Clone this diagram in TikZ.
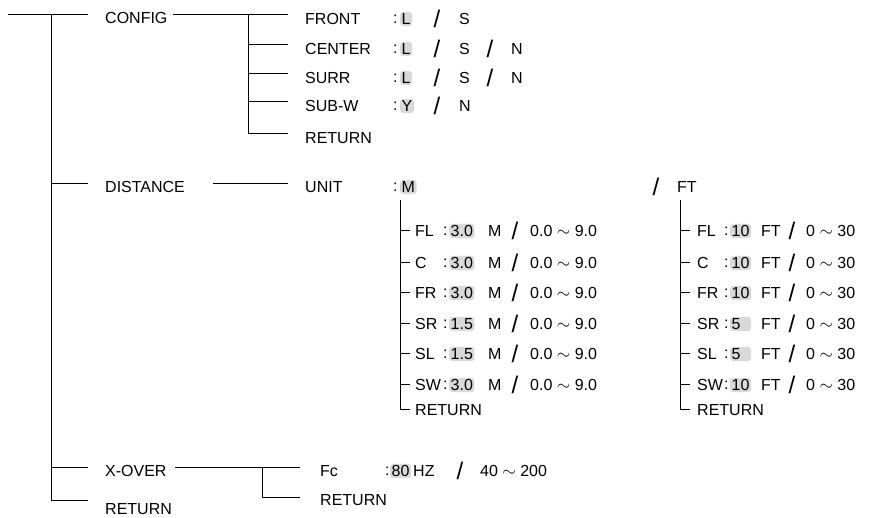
\documentclass[tikz,border=0pt]{standalone}
\usepackage{fontspec}
\setmainfont{Liberation Sans}
\begin{document}
\begin{tikzpicture}[x=1pt,y=-1pt,
  t/.style={anchor=west,inner sep=0pt,font=\fontsize{16}{18}\selectfont},
  hl/.style={anchor=west,inner sep=1.5pt,fill=black!15,rounded corners=3pt,font=\fontsize{16}{18}\selectfont},
  sl/.style={inner sep=0pt,font=\fontsize{24}{26}\selectfont},
  ln/.style={line width=1pt}]
\useasboundingbox (0,0) rectangle (890,517);
% root
\coordinate (r0) at (8,14); \coordinate (r1) at (88,14);
\coordinate (m0) at (51,14); \coordinate (m1) at (51,500);
\draw[ln] (r0)--(r1); \draw[ln] (m0)--(m1);
\coordinate (d0) at (51,183); \coordinate (d1) at (88,183);
\coordinate (x0) at (51,467); \coordinate (x1) at (88,467);
\coordinate (e0) at (51,500); \coordinate (e1) at (88,500);
\draw[ln] (d0)--(d1); \draw[ln] (x0)--(x1); \draw[ln] (e0)--(e1);
\node[t] (config) at (105,18) {CONFIG};
\node[t] (distance) at (105,187) {DISTANCE};
\node[t] (xover) at (105,471) {X-OVER};
\node[t] (ret) at (105,509) {RETURN};
% config subtree
\coordinate (c0) at (173,14); \coordinate (cv0) at (248,14); \coordinate (cv1) at (248,133);
\draw[ln] (c0)--(cv0); \draw[ln] (cv0)--(cv1);
\foreach \y/\n/\lab in {14/front/FRONT,44/center/CENTER,73/surr/SURR,101/subw/SUB-W,133/cret/RETURN}{
  \coordinate (a\n) at (248,\y); \coordinate (b\n) at (288,\y);
  \draw[ln] (a\n)--(b\n);
  \node[t] (\n) at (305,\y+5) {\lab};
}
\node[t] at (393,19) {:}; \node[t] at (393,49) {:}; \node[t] at (393,78) {:}; \node[t] at (393,106) {:};
\node[hl] (vf) at (400,19) {L}; \node[sl] (s1) at (437,19) {/}; \node[t] (fs) at (459,19) {S};
\node[hl] (vc) at (400,49) {L}; \node[sl] (s2) at (437,49) {/}; \node[t] (cs) at (459,49) {S}; \node[sl] (s3) at (490,49) {/}; \node[t] (cn) at (511,49) {N};
\node[hl] (vs) at (400,78) {L}; \node[sl] (s4) at (437,78) {/}; \node[t] (ss) at (459,78) {S}; \node[sl] (s5) at (490,78) {/}; \node[t] (sn) at (511,78) {N};
\node[hl] (vy) at (400,106) {Y}; \node[sl] (s6) at (437,106) {/}; \node[t] (yn) at (459,106) {N};
% distance
\coordinate (dl0) at (213,183); \coordinate (dl1) at (288,183);
\draw[ln] (dl0)--(dl1);
\node[t] (unit) at (305,187) {UNIT};
\node[t] at (393,187) {:};
\node[hl] (um) at (400,187) {M};
\node[sl] (us) at (656,187) {/};
\node[t] (uft) at (677,187) {FT};
\coordinate (mv0) at (400,200); \coordinate (mv1) at (400,409);
\coordinate (fv0) at (680,200); \coordinate (fv1) at (680,409);
\draw[ln] (mv0)--(mv1); \draw[ln] (fv0)--(fv1);
\foreach \y/\lab/\mv/\fv/\i in {230/FL/3.0/10/1,262/C/3.0/10/2,292/FR/3.0/10/3,323/SR/1.5/5\phantom{0}/4,353/SL/1.5/5\phantom{0}/5,384/SW/3.0/10/6}{
  \coordinate (mt\i) at (400,\y); \coordinate (mu\i) at (410,\y);
  \coordinate (ft\i) at (680,\y); \coordinate (fu\i) at (690,\y);
  \draw[ln] (mt\i)--(mu\i); \draw[ln] (ft\i)--(fu\i);
  \node[t] (ml\i) at (415,\y+1) {\lab};
  \node[t] at (443,\y+1) {:};
  \node[hl] (mval\i) at (449,\y+1) {\mv};
  \node[t] (mm\i) at (488,\y+1) {M};
  \node[sl] (msl\i) at (515,\y+1) {/};
  \node[t] (mr\i) at (530,\y+1) {0.0 $\sim$ 9.0};
  \node[t] (fl\i) at (697,\y+1) {\lab};
  \node[t] at (724,\y+1) {:};
  \node[hl] (fval\i) at (730,\y+1) {\fv};
  \node[t] (ff\i) at (761,\y+1) {FT};
  \node[sl] (fsl\i) at (792,\y+1) {/};
  \node[t] (fr\i) at (806,\y+1) {0 $\sim$ 30};
}
\coordinate (mcorner) at (400,409); \coordinate (mend) at (410,409);
\coordinate (fcorner) at (680,409); \coordinate (fend) at (690,409);
\draw[ln] (mcorner)--(mend); \draw[ln] (fcorner)--(fend);
\node[t] (mret) at (415,410) {RETURN};
\node[t] (fret) at (697,410) {RETURN};
% x-over
\coordinate (xl0) at (175,467); \coordinate (xv0) at (262,467); \coordinate (xv1) at (262,497);
\coordinate (xb) at (300,467); \coordinate (xc) at (300,497);
\draw[ln] (xl0)--(xb); \draw[ln] (xv0)--(xv1)--(xc);
\node[t] (fc) at (320,471) {Fc};
\node[t] at (385,471) {:};
\node[hl] (f80) at (390,471) {80};
\node[t] (hz) at (413,471) {HZ};
\node[sl] (xs) at (460,471) {/};
\node[t] (xr) at (480,471) {40 $\sim$ 200};
\node[t] (xret) at (320,500) {RETURN};
\end{tikzpicture}
\end{document}
